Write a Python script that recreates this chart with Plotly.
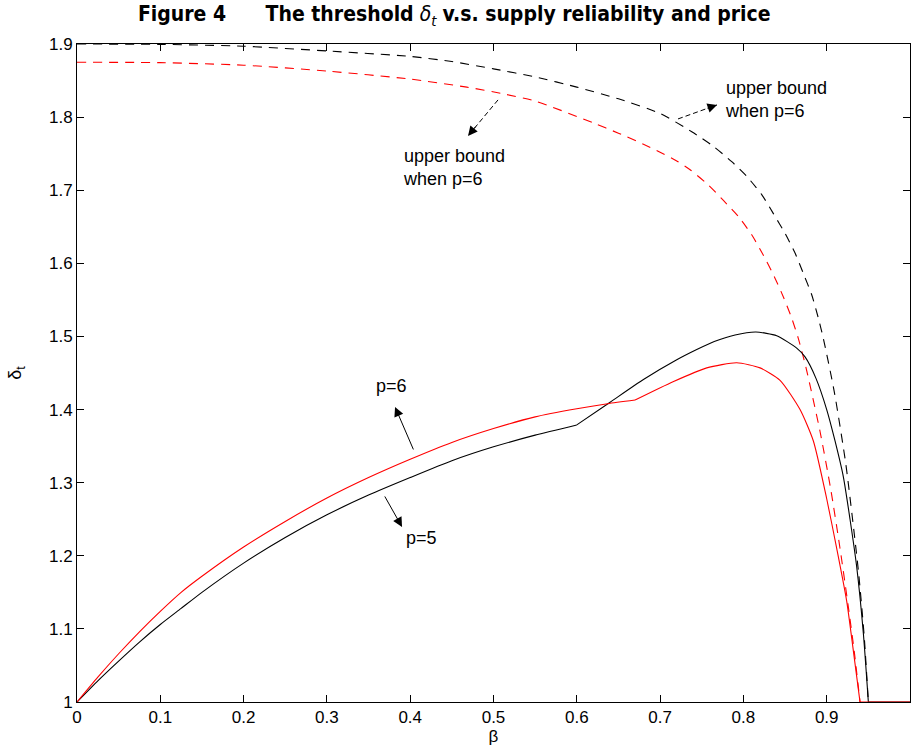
import plotly.graph_objects as go

# ---- data ----
# p = 5 (black solid): rising part up to the kink at beta = 0.6, then the hump and fall
beta_p5_a = [0.0, 0.025, 0.05, 0.075, 0.1, 0.125, 0.15, 0.2, 0.25, 0.3, 0.35, 0.4, 0.45, 0.5, 0.55, 0.6]
delta_p5_a = [1.0, 1.029, 1.056, 1.082, 1.106, 1.128, 1.150, 1.19, 1.225, 1.256, 1.283, 1.307, 1.330, 1.349, 1.365, 1.379]
beta_p5_b = [0.6, 0.64, 0.68, 0.72, 0.744, 0.765, 0.79, 0.815, 0.84, 0.864, 0.874, 0.887, 0.9, 0.91,
             0.92, 0.928, 0.936, 0.944, 0.95]
delta_p5_b = [1.379, 1.410, 1.441, 1.468, 1.482, 1.493, 1.502, 1.506, 1.501, 1.484, 1.472, 1.443, 1.40, 1.357,
              1.308, 1.25, 1.185, 1.094, 1.0]
beta_p5_c = [0.95, 1.0]
delta_p5_c = [1.0, 1.0]

# p = 6 (red solid)
beta_p6_a = [0.0, 0.025, 0.05, 0.075, 0.1, 0.125, 0.15, 0.2, 0.25, 0.3, 0.35, 0.4, 0.45, 0.5, 0.55, 0.6, 0.637, 0.67]
delta_p6_a = [1.0, 1.034, 1.066, 1.096, 1.124, 1.150, 1.172, 1.212, 1.247, 1.279, 1.307, 1.332, 1.355, 1.374, 1.390, 1.401, 1.408, 1.413]
beta_p6_b = [0.67, 0.7155, 0.756, 0.792, 0.82, 0.844, 0.868, 0.884, 0.9, 0.912, 0.924, 0.932, 0.94]
delta_p6_b = [1.413, 1.438, 1.457, 1.464, 1.457, 1.44, 1.40, 1.357, 1.278, 1.21, 1.138, 1.07, 1.0]
beta_p6_c = [0.94, 1.0]
delta_p6_c = [1.0, 1.0]

# upper bounds (dashed)
beta_ub5 = [0.0, 0.1, 0.2, 0.3, 0.4, 0.45, 0.5, 0.55, 0.6, 0.65, 0.7, 0.738, 0.764, 0.786, 0.804,
            0.822, 0.836, 0.85, 0.862, 0.872, 0.882, 0.89, 0.896, 0.909, 0.923, 0.938, 0.945, 0.95]
delta_ub5 = [1.9, 1.8995, 1.897, 1.8905, 1.883, 1.876, 1.866, 1.855, 1.841, 1.825, 1.805, 1.78, 1.76, 1.739, 1.719,
             1.694, 1.668, 1.641, 1.614, 1.586, 1.557, 1.525, 1.497, 1.425, 1.325, 1.18, 1.09, 1.0]

beta_ub6 = [0.0, 0.1, 0.2, 0.3, 0.4, 0.468, 0.511, 0.55, 0.62, 0.65, 0.68, 0.7, 0.72, 0.736, 0.758, 0.776, 0.794,
            0.81, 0.824, 0.837, 0.848, 0.858, 0.866, 0.875, 0.892, 0.905, 0.916, 0.926, 0.933, 0.94]
delta_ub6 = [1.875, 1.8745, 1.871, 1.863, 1.852, 1.841, 1.832, 1.822, 1.792, 1.778, 1.763, 1.752, 1.740, 1.728,
             1.707, 1.686, 1.664, 1.639, 1.611, 1.582, 1.554, 1.525, 1.497, 1.458, 1.37, 1.29, 1.21, 1.13, 1.07, 1.0]

x_ticks = [0, 0.1, 0.2, 0.3, 0.4, 0.5, 0.6, 0.7, 0.8, 0.9, 1]
x_labels = ["0", "0.1", "0.2", "0.3", "0.4", "0.5", "0.6", "0.7", "0.8", "0.9", "1"]
y_ticks = [1, 1.1, 1.2, 1.3, 1.4, 1.5, 1.6, 1.7, 1.8, 1.9]
y_labels = ["1", "1.1", "1.2", "1.3", "1.4", "1.5", "1.6", "1.7", "1.8", "1.9"]

FONT = "Liberation Sans, Arial, Helvetica, sans-serif"

fig = go.Figure()


def add_line(x, y, color, dash=None, spline=True):
    line = dict(color=color, width=1.1)
    if dash:
        line["dash"] = dash
    if spline:
        line["shape"] = "spline"
        line["smoothing"] = 0.6
    fig.add_trace(go.Scatter(x=x, y=y, mode="lines", line=line, showlegend=False, hoverinfo="skip"))


add_line(beta_ub5, delta_ub5, "black", dash="9px,7px")
add_line(beta_ub6, delta_ub6, "red", dash="9px,7px")
add_line(beta_p5_a, delta_p5_a, "black")
add_line(beta_p5_b, delta_p5_b, "black")
add_line(beta_p5_c, delta_p5_c, "black", spline=False)
add_line(beta_p6_a, delta_p6_a, "red")
add_line(beta_p6_b, delta_p6_b, "red")
add_line(beta_p6_c, delta_p6_c, "red", spline=False)

# dashed arrow shafts
fig.add_shape(type="line", x0=0.5054, y0=1.8235, x1=0.4694, y1=1.7743,
              line=dict(color="black", width=1, dash="5px,3px"))
fig.add_shape(type="line", x0=0.7215, y0=1.7975, x1=0.7683, y1=1.8167,
              line=dict(color="black", width=1, dash="5px,3px"))

arrows = [
    # (tail x, tail y, head x, head y)
    (0.480, 1.789, 0.4694, 1.7743),
    (0.755, 1.8115, 0.7683, 1.8167),
    (0.4046, 1.3434, 0.3818, 1.4036),
    (0.3685, 1.2832, 0.3902, 1.2394),
]
for tx, ty, hx, hy in arrows:
    fig.add_annotation(x=hx, y=hy, ax=tx, ay=ty, xref="x", yref="y", axref="x", ayref="y",
                       text="", showarrow=True, arrowhead=2, arrowsize=1.9, arrowwidth=1,
                       arrowcolor="black")

txtfont = dict(family=FONT, size=18, color="black")
fig.add_annotation(x=0.389, y=1.731, xref="x", yref="y", text="upper bound<br>when p=6",
                   showarrow=False, xanchor="left", yanchor="middle", align="left", font=txtfont)
fig.add_annotation(x=0.776, y=1.8235, xref="x", yref="y", text="upper bound<br>when p=6",
                   showarrow=False, xanchor="left", yanchor="middle", align="left", font=txtfont)
fig.add_annotation(x=0.377, y=1.432, xref="x", yref="y", text="p=6",
                   showarrow=False, xanchor="center", yanchor="middle", font=txtfont)
fig.add_annotation(x=0.414, y=1.224, xref="x", yref="y", text="p=5",
                   showarrow=False, xanchor="center", yanchor="middle", font=txtfont)

fig.update_layout(
    width=914, height=753,
    margin=dict(l=77, r=4, t=44, b=51),
    paper_bgcolor="white", plot_bgcolor="white",
    font=dict(family=FONT, size=17, color="black"),
    title=dict(text="<b>Figure 4&nbsp;&nbsp;&nbsp;&nbsp;&nbsp;&nbsp;The threshold</b> <i>δ</i><sub><i>t</i></sub> <b>v.s. supply reliability and price</b>",
               x=0.497, xanchor="center", y=0.9815, yanchor="middle",
               font=dict(family="DejaVu Sans Condensed, Liberation Sans Narrow, sans-serif", size=21)),
)
fig.update_xaxes(range=[0, 1], tickvals=x_ticks, ticktext=x_labels, ticks="inside", ticklen=7,
                 tickcolor="black", showline=True, linecolor="black", linewidth=1, mirror="ticks",
                 showgrid=False, zeroline=False, tickfont=dict(size=17), automargin=False,
                 title=dict(text="β", font=dict(size=17), standoff=2))
fig.update_yaxes(range=[1, 1.9], tickvals=y_ticks, ticktext=y_labels, ticks="inside", ticklen=7,
                 tickcolor="black", showline=True, linecolor="black", linewidth=1, mirror="ticks",
                 showgrid=False, zeroline=False, tickfont=dict(size=17), automargin=False,
                 title=dict(text="δ<sub>t</sub>", font=dict(size=18), standoff=22))

# remove the browser's default 8px page margin so the figure fills the window exactly
fig.write_html("out.html", config={"displayModeBar": False},
               post_script="document.body.style.margin='0px';")
